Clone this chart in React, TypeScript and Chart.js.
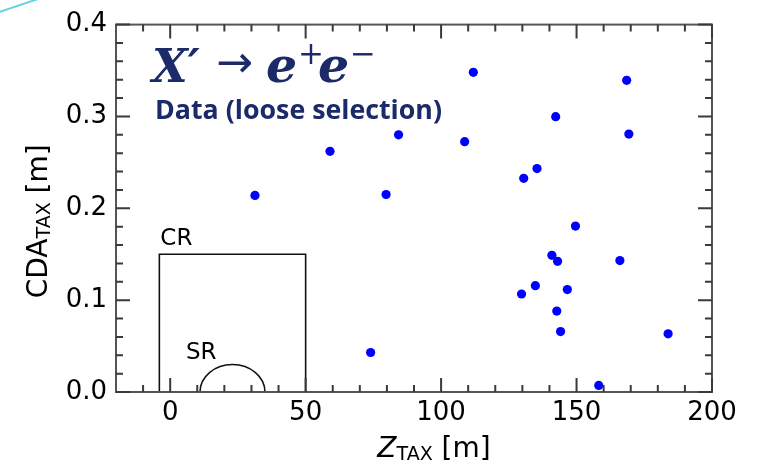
import React, { useEffect, useRef } from "react";
import { Chart, registerables } from "chart.js";

Chart.register(...registerables);

// ---- Data ----
const zTax = [31.3, 59.0, 79.7, 84.3, 74.0, 108.7, 111.9, 130.5, 135.4, 142.3, 168.5, 169.3, 149.6, 140.9, 143.0, 166.0, 129.7, 134.8, 146.6, 142.7, 144.1, 183.8, 158.2];
const cdaTax = [0.214, 0.262, 0.215, 0.28, 0.043, 0.2725, 0.348, 0.2326, 0.2433, 0.2998, 0.3393, 0.2808, 0.1806, 0.1488, 0.1423, 0.1431, 0.1067, 0.1158, 0.1115, 0.0881, 0.0658, 0.0633, 0.0072];

// ---- Axes ----
const xRange = [-20, 200];
const yRange = [0, 0.4];
const xMajorTicks = [0, 50, 100, 150, 200];
const xMinorTicks = [-10, 10, 20, 30, 40, 60, 70, 80, 90, 110, 120, 130, 140, 160, 170, 180, 190];
const yMajorTicks = [0, 0.1, 0.2, 0.3, 0.4];
const yMinorTicks = [0.02, 0.04, 0.06, 0.08, 0.12, 0.14, 0.16, 0.18, 0.22, 0.24, 0.26, 0.28, 0.32, 0.34, 0.36, 0.38];

// ---- Regions (data coordinates) ----
const crZ = [-4, 50];
const crCda = 0.15;
const srCenterZ = 23;
const srHalfWidthZ = 12;
const srHeightCda = 0.03;

// ---- Texts ----
const titleParts = { x: "X\u2032", arrow: "\u2192", e: "e", plus: "+", minus: "\u2212" };
const subtitle = "Data (loose selection)";
const navy = "#1b2a68";

const decorPlugin = {
  id: "decor",
  beforeDatasetsDraw(chart: any) {
    const { ctx, scales } = chart;
    const x = scales.x, y = scales.y;
    ctx.save();
    ctx.strokeStyle = "#111";
    ctx.lineWidth = 1.6;
    const l = x.getPixelForValue(crZ[0]);
    const r = x.getPixelForValue(crZ[1]);
    const t = y.getPixelForValue(crCda);
    const b = y.getPixelForValue(0);
    ctx.beginPath();
    ctx.moveTo(l, b);
    ctx.lineTo(l, t);
    ctx.lineTo(r, t);
    ctx.lineTo(r, b);
    ctx.stroke();
    const cx = x.getPixelForValue(srCenterZ);
    const rx = x.getPixelForValue(srCenterZ + srHalfWidthZ) - cx;
    const ry = b - y.getPixelForValue(srHeightCda);
    ctx.beginPath();
    ctx.ellipse(cx, b, rx, ry, 0, Math.PI, 2 * Math.PI);
    ctx.stroke();
    ctx.fillStyle = "#000";
    ctx.font = '23px "DejaVu Sans"';
    ctx.textBaseline = "alphabetic";
    ctx.textAlign = "left";
    ctx.fillText("CR", l + 1, t - 9);
    ctx.fillText("SR", cx - rx - 14, b - ry - 5);
    ctx.restore();
  },
  afterDraw(chart: any) {
    const { ctx, chartArea: ca, scales } = chart;
    const x = scales.x, y = scales.y;
    ctx.save();
    ctx.strokeStyle = "#555";
    ctx.lineWidth = 2;
    ctx.strokeRect(ca.left, ca.top, ca.right - ca.left, ca.bottom - ca.top);
    ctx.strokeStyle = "#3a3a3a";
    const major = 14, minor = 7;
    ctx.beginPath();
    const xt = (v: number, len: number) => {
      const p = x.getPixelForValue(v);
      ctx.moveTo(p, ca.bottom); ctx.lineTo(p, ca.bottom - len);
      ctx.moveTo(p, ca.top); ctx.lineTo(p, ca.top + len);
    };
    const yt = (v: number, len: number) => {
      const p = y.getPixelForValue(v);
      ctx.moveTo(ca.left, p); ctx.lineTo(ca.left + len, p);
      ctx.moveTo(ca.right, p); ctx.lineTo(ca.right - len, p);
    };
    xMajorTicks.forEach((v) => xt(v, major));
    xMinorTicks.forEach((v) => xt(v, minor));
    yMajorTicks.forEach((v) => yt(v, major));
    yMinorTicks.forEach((v) => yt(v, minor));
    ctx.stroke();

    ctx.fillStyle = "#000";
    ctx.textBaseline = "alphabetic";
    ctx.textAlign = "left";
    {
      const fMain = 'italic 28px "DejaVu Sans"';
      const fSub = '19px "DejaVu Sans"';
      const fRest = '28px "DejaVu Sans"';
      ctx.font = fMain; const w1 = ctx.measureText("Z").width;
      ctx.font = fSub; const w2 = ctx.measureText("TAX").width;
      ctx.font = fRest; const w3 = ctx.measureText(" [m]").width;
      const total = w1 + w2 + w3;
      const cxm = (ca.left + ca.right) / 2 + 20;
      let px = cxm - total / 2;
      const base = 457;
      ctx.font = fMain; ctx.fillText("Z", px, base); px += w1;
      ctx.font = fSub; ctx.fillText("TAX", px, base + 3); px += w2;
      ctx.font = fRest; ctx.fillText(" [m]", px, base);
    }
    {
      const fMain = '28px "DejaVu Sans"';
      const fSub = '19px "DejaVu Sans"';
      ctx.font = fMain; const w1 = ctx.measureText("CDA").width;
      ctx.font = fSub; const w2 = ctx.measureText("TAX").width;
      ctx.font = fMain; const w3 = ctx.measureText(" [m]").width;
      const total = w1 + w2 + w3;
      ctx.save();
      ctx.translate(47, (ca.top + ca.bottom) / 2 + 13);
      ctx.rotate(-Math.PI / 2);
      let px = -total / 2;
      ctx.font = fMain; ctx.fillText("CDA", px, 0); px += w1;
      ctx.font = fSub; ctx.fillText("TAX", px, 3); px += w2;
      ctx.font = fMain; ctx.fillText(" [m]", px, 0);
      ctx.restore();
    }

    // annotation title
    ctx.fillStyle = navy;
    ctx.font = 'italic bold 46px "DejaVu Serif"';
    ctx.fillText(titleParts.x, 152, 82);
    ctx.font = '44px "DejaVu Sans"';
    ctx.textBaseline = "middle";
    ctx.fillText(titleParts.arrow, 216, 66);
    ctx.textBaseline = "alphabetic";
    ctx.font = 'italic bold 49px "DejaVu Serif"';
    ctx.fillText(titleParts.e, 266, 82);
    ctx.fillText(titleParts.e, 318, 82);
    ctx.font = '31px "DejaVu Serif"';
    ctx.textBaseline = "middle";
    ctx.fillText(titleParts.plus, 298, 56);
    ctx.fillText(titleParts.minus, 350, 56);
    ctx.textBaseline = "alphabetic";
    // subtitle fitted to the reference width
    ctx.font = 'bold 27.5px "Open Sans"';
    const sw = ctx.measureText(subtitle).width;
    ctx.save();
    ctx.translate(155, 119);
    ctx.scale(287 / sw, 1);
    ctx.fillText(subtitle, 0, 0);
    ctx.restore();

    ctx.strokeStyle = "#5fd3e0";
    ctx.lineWidth = 2;
    ctx.beginPath();
    ctx.moveTo(-5, 13.4);
    ctx.lineTo(40, -1.7);
    ctx.stroke();
    ctx.restore();
  },
};

export default function App() {
  const ref = useRef<HTMLCanvasElement | null>(null);
  useEffect(() => {
    if (!ref.current) return;
    const points = zTax.map((z, i) => ({ x: z, y: cdaTax[i] }));
    const chart = new Chart(ref.current, {
      type: "scatter",
      data: {
        datasets: [
          {
            data: points,
            backgroundColor: "#0000ff",
            borderWidth: 0,
            pointRadius: 4.6,
          },
        ],
      },
      options: {
        animation: false,
        responsive: false,
        maintainAspectRatio: false,
        layout: { padding: { left: 0, right: 49, top: 21, bottom: 0 } },
        plugins: { legend: { display: false }, tooltip: { enabled: false } },
        scales: {
          x: {
            type: "linear",
            min: xRange[0],
            max: xRange[1],
            grid: { display: false, drawTicks: false },
            border: { display: false },
            ticks: {
              font: { family: "DejaVu Sans", size: 26 },
              color: "#000",
              padding: 6,
              maxRotation: 0,
            },
            afterBuildTicks: (s: any) => {
              s.ticks = xMajorTicks.map((v) => ({ value: v }));
            },
            afterFit: (s: any) => {
              s.height = 71;
            },
          },
          y: {
            type: "linear",
            min: yRange[0],
            max: yRange[1],
            grid: { display: false, drawTicks: false },
            border: { display: false },
            ticks: {
              font: { family: "DejaVu Sans", size: 26 },
              color: "#000",
              padding: 9,
              callback: (v: any) => Number(v).toFixed(1),
            },
            afterBuildTicks: (s: any) => {
              s.ticks = yMajorTicks.map((v) => ({ value: v }));
            },
            afterFit: (s: any) => {
              s.width = 116;
            },
          },
        },
      },
      plugins: [decorPlugin],
    } as any);
    return () => chart.destroy();
  }, []);
  return (
    <div style={{ position: "absolute", left: 0, top: 0, width: 761, height: 463, background: "#fff" }}>
      <canvas ref={ref} width={761} height={463} style={{ width: 761, height: 463, display: "block" }} />
    </div>
  );
}
